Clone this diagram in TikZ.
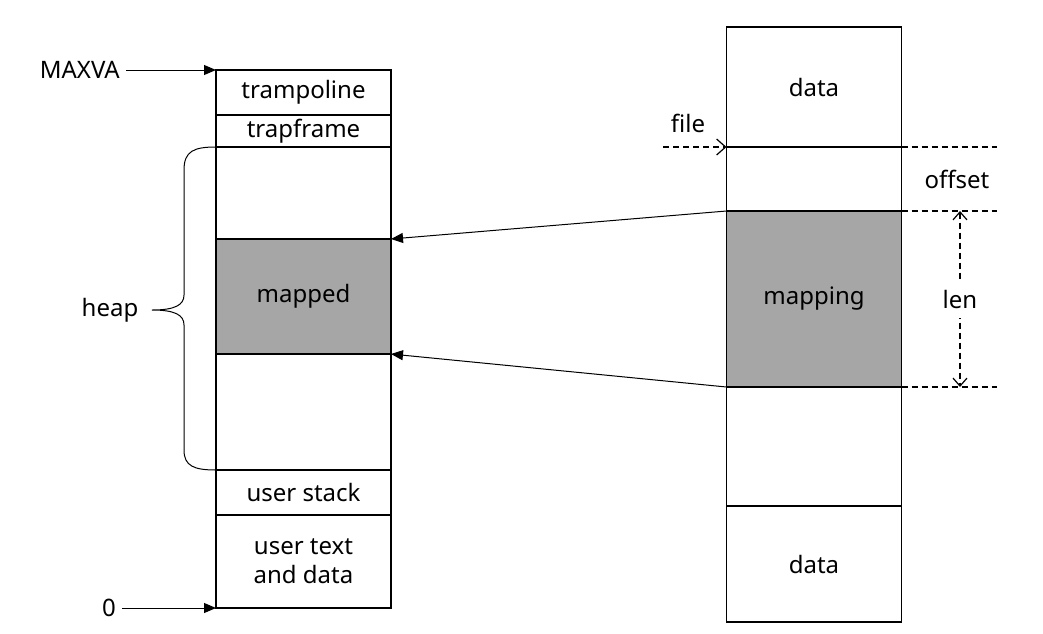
\documentclass[tikz,border=0pt]{standalone}
\usepackage{fontspec}
\setmainfont{Noto Sans}
\usetikzlibrary{positioning,arrows.meta}
\definecolor{mapgrey}{HTML}{A6A6A6}
\tikzset{
  cell/.style={draw,line width=1.5pt,minimum width=175pt,inner sep=0pt,outer sep=0pt,align=center,font=\fontsize{24}{29}\selectfont},
  mapfill/.style={fill=mapgrey},
  plain/.style={},
  lbl/.style={font=\fontsize{24}{29}\selectfont,inner sep=6pt},
  ptr/.style={line width=1pt,-{Triangle[length=12pt,width=10pt]}},
  guide/.style={line width=1.2pt,dash pattern=on 6pt off 4pt},
  barb/.style={-{Straight Barb[length=9pt,width=16pt]}},
}
\begin{document}
\begin{tikzpicture}[x=1pt,y=-1pt]
  \useasboundingbox (0,0) rectangle (1043,633);
  % virtual address space
  \coordinate (L) at (303.5,70);
  \foreach \n/\h/\t/\s [remember=\n as \p (initially L)] in
    {lA/45/trampoline/plain, lB/32/trapframe/plain, lC/92//plain,
     lD/115/mapped/mapfill, lE/116//plain, lF/45/user stack/plain,
     lG/93/{user text\\and data}/plain}
  {
    \node[cell,\s,minimum height=\h pt,below=0pt of \p] (\n) {\t};
  }
  % the file
  \coordinate (R) at (814,27);
  \foreach \n/\h/\t/\s [remember=\n as \p (initially R)] in
    {rA/120/data/plain, rB/64//plain, rC/176/mapping/mapfill,
     rD/119//plain, rE/116/data/plain}
  {
    \node[cell,\s,minimum height=\h pt,below=0pt of \p] (\n) {\t};
  }
  %% labels on the left
  \node[lbl,anchor=east] (maxva) at (126,70) {MAXVA};
  \node[lbl,anchor=east] (zero) at (122,608) {0};
  \node[lbl] (heap) at (110,310) {heap};
  \draw[ptr] (maxva.east) -- (lA.north west);
  \draw[ptr] (zero.east) -- (lG.south west);
  % the brace
  \draw[line width=1pt] (lC.north west) .. controls (194,147) and (184,151) .. (184,170)
    -- (184,295) .. controls (184,305) and (175,310) .. (152,310)
    .. controls (175,310) and (184,315) .. (184,325)
    -- (184,450) .. controls (184,466) and (194,470) .. (lE.south west);
  %% mapping arrows
  \draw[ptr] (rC.north west) -- (lD.north east);
  \draw[ptr] (rC.south west) -- (lD.south east);
  % guides on the right
  \coordinate (gA) at (997,147);
  \coordinate (gB) at (997,211);
  \coordinate (gC) at (997,387);
  \coordinate (fileTail) at (663,147);
  \coordinate (lenTop) at (960,211);
  \coordinate (lenBot) at (960,387);
  \draw[guide] (rB.north east) -- (gA);
  \draw[guide] (rC.north east) -- (gB);
  \draw[guide] (rC.south east) -- (gC);
  \draw[guide,barb] (fileTail) -- (rB.north west);
  \node[lbl] (file) at (688,123) {file};
  \node[lbl] (offset) at (957,179) {offset};
  \draw[guide,{Straight Barb[length=8pt,width=14pt]}-{Straight Barb[length=8pt,width=14pt]}]
    (lenTop) -- (lenBot) node[lbl,midway,fill=white,inner xsep=2pt,inner ysep=10pt] (len) {len};
\end{tikzpicture}
\end{document}
